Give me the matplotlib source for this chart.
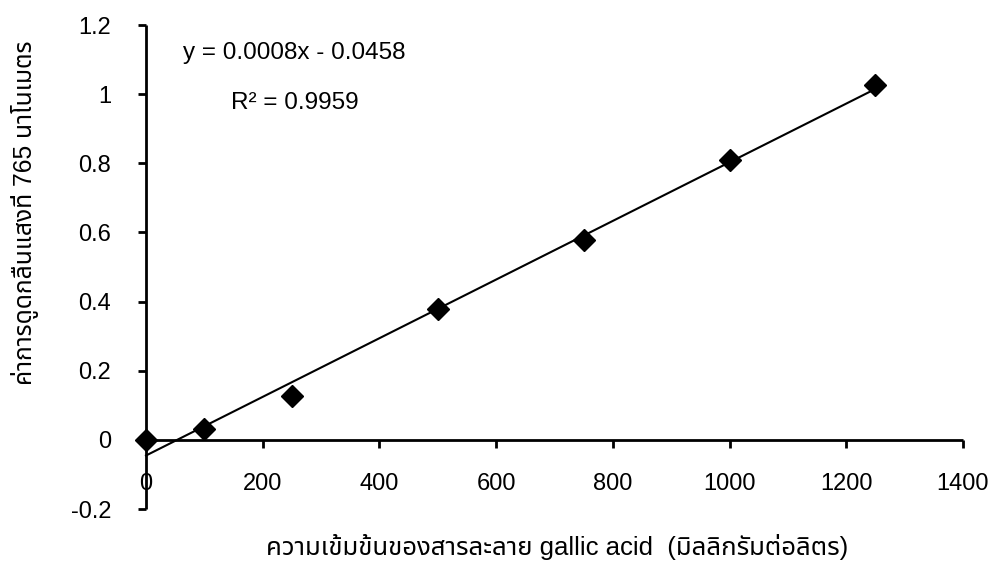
import numpy as np
import matplotlib
matplotlib.use("Agg")
import matplotlib.pyplot as plt
from matplotlib import font_manager as fm
from matplotlib.ft2font import FT2Font

# ---- data ----
concentration = [0, 100, 250, 500, 750, 1000, 1250]
absorbance = [0.0, 0.03, 0.127, 0.378, 0.577, 0.81, 1.027]
x_ticks = [0, 200, 400, 600, 800, 1000, 1200, 1400]
y_ticks = [-0.2, 0, 0.2, 0.4, 0.6, 0.8, 1.0, 1.2]
y_tick_labels = ["-0.2", "0", "0.2", "0.4", "0.6", "0.8", "1", "1.2"]
equation_text = "y = 0.0008x - 0.0458"
r2_text = "R² = 0.9959"
x_label = "ความเข้มข้นของสารละลาย gallic acid  (มิลลิกรัมต่อลิตร)"
y_label = "ค่าการดูดกลืนแสงที่ 765 นาโนเมตร"

# ---- find a font with Thai glyphs ----
thai_font = None
cands = []
for f in fm.fontManager.ttflist:
    try:
        cm = FT2Font(f.fname).get_charmap()
        if 0x0E01 in cm and 0x0E40 in cm:
            cands.append(f.name)
    except Exception:
        pass
for pref in ["Noto Sans Thai", "Noto Sans Thai Looped", "Loma", "Garuda", "Tlwg Typo"]:
    if pref in cands:
        thai_font = pref
        break
if thai_font is None and cands:
    thai_font = cands[0]

base = "Liberation Sans"
fam = [base] + ([thai_font] if thai_font else []) + ["DejaVu Sans"]
plt.rcParams["font.family"] = fam

fig = plt.figure(figsize=(9.93, 5.65), dpi=100)
ax = fig.add_axes([146 / 993, 1 - 509 / 565, (963 - 146) / 993, (509 - 25) / 565])

ax.set_xlim(0, 1400)
ax.set_ylim(-0.2, 1.2)

# trendline (least squares)
slope, intercept = np.polyfit(concentration, absorbance, 1)
xl = np.array([0, max(concentration)])
ax.plot(xl, slope * xl + intercept, color="black", lw=1.5, clip_on=False, zorder=3)

ax.plot(concentration, absorbance, linestyle="none", marker="D", ms=11,
        color="black", clip_on=False, zorder=4)

for s in ["top", "right"]:
    ax.spines[s].set_visible(False)
ax.spines["bottom"].set_position(("data", 0))
ax.spines["left"].set_position(("data", 0))
for s in ["bottom", "left"]:
    ax.spines[s].set_linewidth(2.0)
    ax.spines[s].set_capstyle("butt")

ax.set_xticks(x_ticks)
ax.set_xticklabels([str(v) for v in x_ticks])
ax.set_yticks(y_ticks)
ax.set_yticklabels(y_tick_labels)
ax.tick_params(axis="x", direction="out", length=6, width=2, pad=18, labelsize=17)
ax.tick_params(axis="y", direction="out", length=6, width=2, pad=19, labelsize=17)

ax.text(183 / 993, 1 - 53 / 565, equation_text, transform=fig.transFigure,
        ha="left", va="center", fontsize=17.5)
ax.text(231 / 993, 1 - 103 / 565, r2_text, transform=fig.transFigure,
        ha="left", va="center", fontsize=17.5)

fig.text(557 / 993, 1 - 547 / 565, x_label, ha="center", va="center", fontsize=18.5)
fig.text(25 / 993, 1 - 213 / 565, y_label, ha="center", va="center", fontsize=17.7,
         rotation=90)

fig.savefig("out.png", dpi=100)
